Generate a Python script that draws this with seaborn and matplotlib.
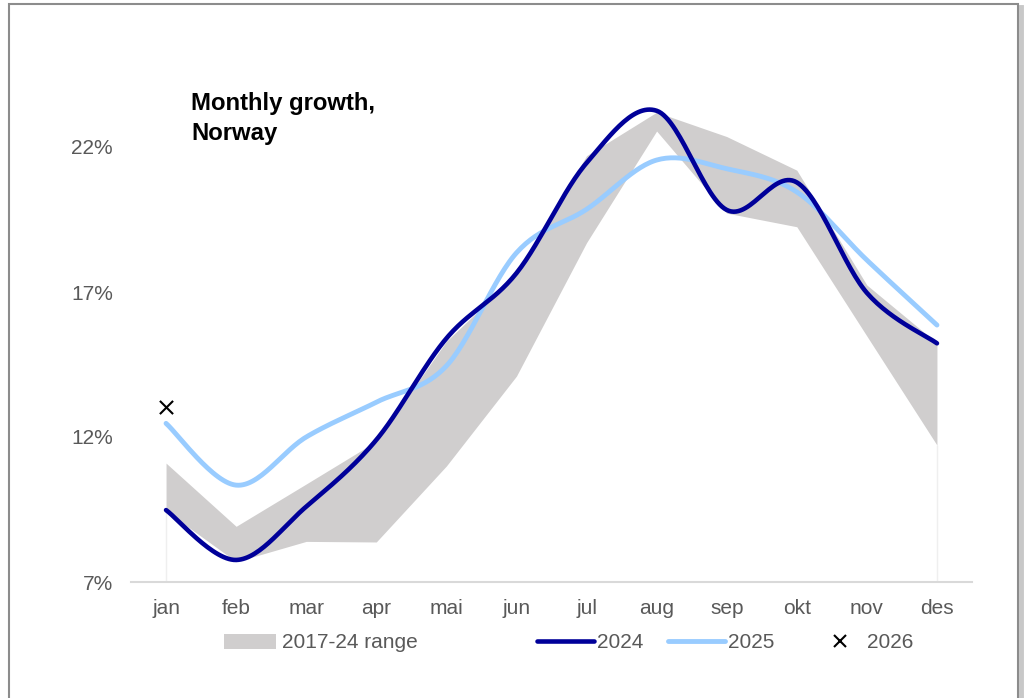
import numpy as np
import pandas as pd
import matplotlib
matplotlib.use("Agg")
import matplotlib.pyplot as plt
from matplotlib.patches import Rectangle, Patch
from matplotlib.lines import Line2D
import seaborn as sns

# ---------------- data ----------------
months = ['jan', 'feb', 'mar', 'apr', 'mai', 'jun', 'jul', 'aug', 'sep', 'okt', 'nov', 'des']
y2024 = [9.48, 7.76, 9.6, 11.9, 15.4, 17.65, 21.45, 23.25, 19.83, 20.78, 16.97, 15.23]
y2025 = [12.47, 10.34, 12.0, 13.2, 14.45, 18.35, 19.85, 21.55, 21.25, 20.45, 18.1, 15.86]
y2026 = [13.03]
range_low = [9.45, 7.7, 8.4, 8.38, 11.0, 14.1, 18.7, 22.55, 19.72, 19.25, 15.48, 11.72]
range_high = [11.1, 8.92, 10.38, 11.85, 15.3, 17.6, 21.7, 23.2, 22.36, 21.2, 17.24, 15.24]
yticks = [7, 12, 17, 22]
ytick_labels = ['7%', '12%', '17%', '22%']

C2024 = '#000099'
C2025 = '#99CCFF'
CBAND = '#D0CECE'
CTXT = '#595959'

sns.set_theme(style='white')
plt.rcParams['font.family'] = ['Liberation Sans', 'DejaVu Sans']


def smooth(vals, n=30):
    """Excel-style smoothed line (Bezier through points)."""
    p = np.column_stack([np.arange(len(vals), dtype=float), np.asarray(vals, float)])
    out = []
    m = len(p)
    for i in range(m - 1):
        p0 = p[i - 1] if i > 0 else p[i]
        p1 = p[i]
        p2 = p[i + 1]
        p3 = p[i + 2] if i + 2 < m else p[i + 1]
        c1 = p1 + (p2 - p0) / 6.0
        c2 = p2 - (p3 - p1) / 6.0
        t = np.linspace(0, 1, n, endpoint=(i == m - 2))[:, None]
        b = ((1 - t) ** 3) * p1 + 3 * ((1 - t) ** 2) * t * c1 + 3 * (1 - t) * t ** 2 * c2 + t ** 3 * p2
        out.append(b)
    out = np.vstack(out)
    return out[:, 0], out[:, 1]


fig = plt.figure(figsize=(10.24, 6.98), dpi=100)

# outer frame with shadow (behind everything)
fig.patches.append(Rectangle((12 / 1024, -0.05), 1009 / 1024, 1 - 7 / 698 + 0.05,
                             transform=fig.transFigure, facecolor='none', edgecolor='#C8C8C8',
                             lw=3.5, zorder=-3))
fig.patches.append(Rectangle((9 / 1024, -0.05), 1009 / 1024, 1 - 4 / 698 + 0.05,
                             transform=fig.transFigure, facecolor='white', edgecolor='#8C8C8C',
                             lw=1.5, zorder=-2))

ax = fig.add_axes([131 / 1024, 1 - 582 / 698, (972 - 131) / 1024, (582 - 60) / 698])
ax.set_zorder(1)

xi = np.arange(len(months))
# faint edges of the invisible lower stacked area
ax.vlines([xi[0], xi[-1]], 7, [range_low[0], range_low[-1]], color='#EFEFEF', lw=1, zorder=1)
ax.fill_between(xi, range_low, range_high, color=CBAND, lw=0, zorder=2)

sx, sy = smooth(y2025)
df25 = pd.DataFrame({'x': sx, 'y': sy})
sns.lineplot(data=df25, x='x', y='y', ax=ax, color=C2025, lw=3.5, sort=False,
             estimator=None, zorder=3, solid_capstyle='round')
sx, sy = smooth(y2024)
df24 = pd.DataFrame({'x': sx, 'y': sy})
sns.lineplot(data=df24, x='x', y='y', ax=ax, color=C2024, lw=3.3, sort=False,
             estimator=None, zorder=4, solid_capstyle='round')
sns.scatterplot(x=xi[:len(y2026)], y=y2026, ax=ax, marker='x', color='black', s=90,
                linewidth=1.5, zorder=5)

ax.set_xlim(-0.5, 11.5)
ax.set_ylim(7, 25)
ax.set_xticks(xi)
ax.set_xticklabels(months)
ax.set_yticks(yticks)
ax.set_yticklabels(ytick_labels)
ax.set_xlabel('')
ax.set_ylabel('')
ax.tick_params(axis='both', length=0, labelsize=15, labelcolor=CTXT)
ax.tick_params(axis='y', pad=13)
ax.tick_params(axis='x', pad=12)
for s in ['left', 'right', 'top']:
    ax.spines[s].set_visible(False)
ax.spines['bottom'].set_color('#D9D9D9')
ax.spines['bottom'].set_linewidth(1.5)
ax.grid(False)
ax.patch.set_alpha(0)

fig.text(191 / 1024, 1 - 92 / 698, 'Monthly growth,\nNorway', fontsize=17.2, fontweight='bold',
         va='top', ha='left', color='black', linespacing=1.38)

# legend entries
ly = 1 - 643 / 698
entries = [
    (Patch(facecolor=CBAND, edgecolor='none'), '2017-24 range', 224, 2.5, 0.3),
    (Line2D([], [], color=C2024, lw=3.3, solid_capstyle='round'), '2024', 537, 2.75, 0.15),
    (Line2D([], [], color=C2025, lw=3.5, solid_capstyle='round'), '2025', 668, 2.75, 0.15),
    (Line2D([], [], color='black', marker='x', lw=0, markersize=8, markeredgewidth=1.5), '2026', 830, 1.0, 0.8),
]
for h, lab, px, hl, tp in entries:
    leg = fig.legend(handles=[h], labels=[lab], loc='center left', bbox_to_anchor=(px / 1024, ly),
                     frameon=False, fontsize=15, handlelength=hl, handletextpad=tp,
                     borderpad=0, borderaxespad=0, handleheight=0.7)
    for t in leg.get_texts():
        t.set_color(CTXT)

fig.savefig('out.png', dpi=100)
